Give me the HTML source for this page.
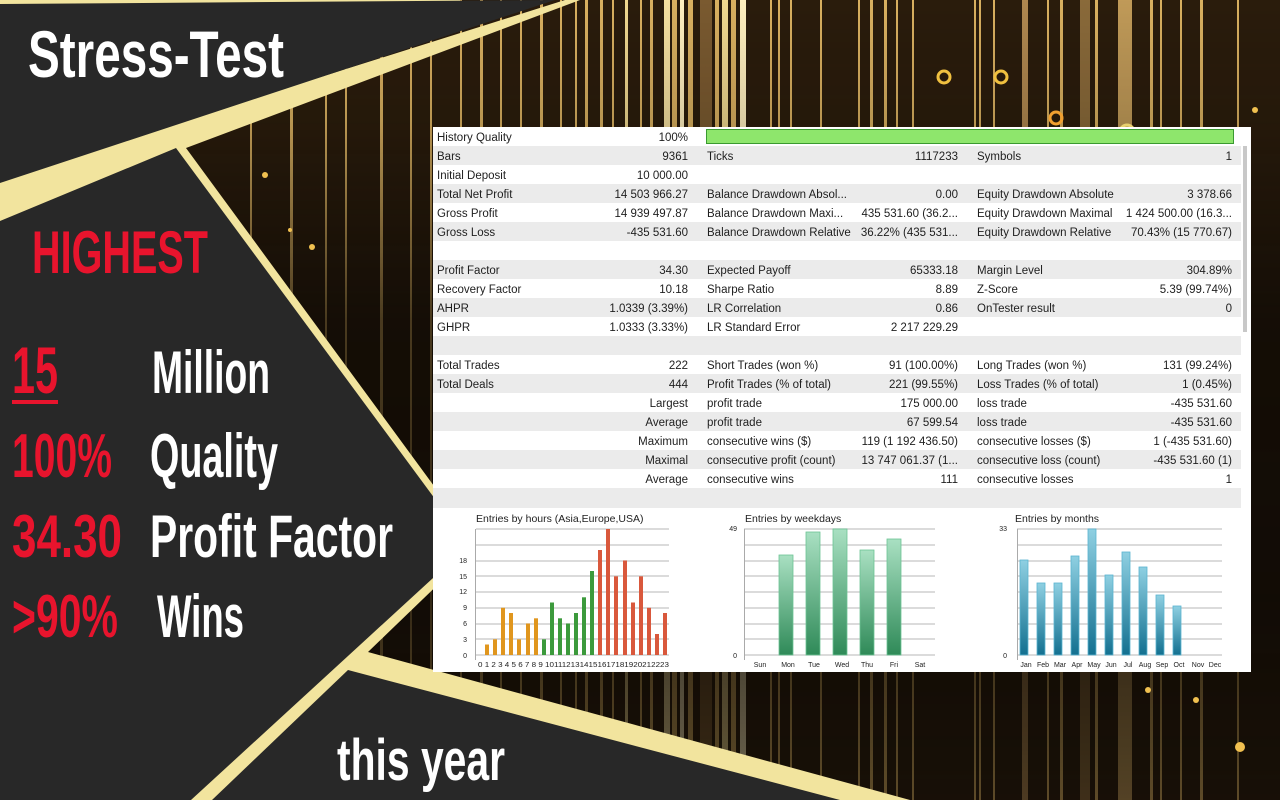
<!DOCTYPE html>
<html><head><meta charset="utf-8"><style>
html,body{margin:0;padding:0;background:#000;}
svg{display:block}
</style></head><body>
<svg width="1280" height="800" viewBox="0 0 1280 800" xmlns="http://www.w3.org/2000/svg" font-family="Liberation Sans, sans-serif">
<defs>
<linearGradient id="fade" x1="0" y1="0" x2="0" y2="1">
<stop offset="0" stop-color="#fff" stop-opacity="1"/>
<stop offset="0.15" stop-color="#fff" stop-opacity="0.85"/>
<stop offset="0.4" stop-color="#fff" stop-opacity="0.3"/>
<stop offset="0.75" stop-color="#fff" stop-opacity="0.2"/>
<stop offset="1" stop-color="#fff" stop-opacity="0.4"/>
</linearGradient>
<mask id="m"><rect x="0" y="0" width="1280" height="800" fill="url(#fade)"/></mask>
<linearGradient id="gG" x1="0" y1="0" x2="0" y2="1"><stop offset="0" stop-color="#a9e0c2"/><stop offset="1" stop-color="#2f8a58"/></linearGradient>
<linearGradient id="gB" x1="0" y1="0" x2="0" y2="1"><stop offset="0" stop-color="#8fd0e2"/><stop offset="1" stop-color="#137090"/></linearGradient>
</defs>
<rect width="1280" height="800" fill="#0c0804"/>
<g mask="url(#m)">
<rect x="0" y="0" width="1280" height="800" fill="#2a1c0c"/>
<g fill="#d9b060">
<rect x="664" y="0" width="6" height="800" fill="#f5e0a0"/><rect x="672" y="0" width="5" height="800"/><rect x="680" y="0" width="4" height="800" fill="#fff0c0"/><rect x="688" y="0" width="5" height="800"/>
<rect x="700" y="0" width="12" height="800" fill="#7a5a30"/><rect x="715" y="0" width="4" height="800"/><rect x="722" y="0" width="6" height="800" fill="#f0d890"/><rect x="731" y="0" width="5" height="800"/><rect x="740" y="0" width="6" height="800" fill="#fff0c0"/>
<rect x="770" y="0" width="2" height="800"/><rect x="778" y="0" width="2" height="800"/><rect x="790" y="0" width="2" height="800"/><rect x="820" y="0" width="2" height="800"/>
<rect x="858" y="0" width="2" height="800"/><rect x="870" y="0" width="3" height="800"/><rect x="884" y="0" width="3" height="800"/><rect x="896" y="0" width="2" height="800"/><rect x="912" y="0" width="2" height="800"/>
<rect x="974" y="0" width="2" height="800"/><rect x="979" y="0" width="2" height="800"/><rect x="993" y="0" width="2" height="800"/><rect x="1022" y="0" width="6" height="800" fill="#b08850"/><rect x="1047" y="0" width="2" height="800"/><rect x="1060" y="0" width="3" height="800"/>
<rect x="1080" y="0" width="10" height="800" fill="#8a6a3a"/><rect x="1095" y="0" width="3" height="800"/><rect x="1118" y="0" width="14" height="800" fill="#c09a58"/><rect x="1150" y="0" width="3" height="800"/>
<rect x="1160" y="0" width="2" height="800"/><rect x="1180" y="0" width="2" height="800"/><rect x="1200" y="0" width="3" height="800"/><rect x="1237" y="0" width="2" height="800"/>
<rect x="600" y="0" width="3" height="800"/><rect x="612" y="0" width="2" height="800"/><rect x="625" y="0" width="3" height="800" fill="#f0d890"/><rect x="640" y="0" width="2" height="800"/><rect x="650" y="0" width="3" height="800"/>
<rect x="520" y="0" width="2" height="800"/><rect x="540" y="0" width="3" height="800"/><rect x="560" y="0" width="2" height="800"/><rect x="575" y="0" width="2" height="800"/><rect x="585" y="0" width="3" height="800"/>
<rect x="460" y="0" width="2" height="800"/><rect x="480" y="0" width="3" height="800"/><rect x="500" y="0" width="2" height="800"/>
<rect x="250" y="0" width="2" height="800"/><rect x="290" y="0" width="3" height="800"/><rect x="325" y="0" width="2" height="800"/><rect x="345" y="0" width="2" height="800"/><rect x="380" y="0" width="3" height="800"/><rect x="410" y="0" width="2" height="800"/><rect x="430" y="0" width="2" height="800"/>
</g>
</g>
<g fill="none" stroke-width="3">
<circle cx="944" cy="77" r="6" stroke="#f0c040"/><circle cx="1001" cy="77" r="6" stroke="#f0c040"/><circle cx="1056" cy="118" r="6" stroke="#f0a030"/><circle cx="1127" cy="132" r="7" stroke="#e8d070"/>
</g>
<g fill="#f0c050"><circle cx="1240" cy="747" r="5"/><circle cx="1148" cy="690" r="3"/><circle cx="1196" cy="700" r="3"/><circle cx="1255" cy="110" r="3"/><circle cx="265" cy="175" r="3"/><circle cx="312" cy="247" r="3"/><circle cx="290" cy="230" r="2"/></g>

<!-- cream -->
<polygon points="0,0 460,0 460,4 0,4" fill="#f2e49e"/>
<polygon points="0,178 565,0 580,0 186,148 478,546 368,652 910,800 0,800" fill="#f2e49e"/>
<!-- dark panels -->
<polygon points="0,4 555,0 0,183" fill="#282828"/>
<polygon points="0,221 176,148 469,545 191,800 0,800" fill="#282828"/>
<polygon points="348,670 840,800 212,800" fill="#282828"/>

<!-- headline text -->
<g font-family="Liberation Sans Narrow, Liberation Sans, sans-serif" font-weight="bold">
<text x="28" y="77" font-size="66" fill="#fff" textLength="256" lengthAdjust="spacingAndGlyphs">Stress-Test</text>
<text x="32" y="273" font-size="60" fill="#e8142d" textLength="176" lengthAdjust="spacingAndGlyphs">HIGHEST</text>
<text x="12" y="393" font-size="66" fill="#e8142d" textLength="46" lengthAdjust="spacingAndGlyphs">15</text>
<rect x="12" y="400" width="46" height="4" fill="#e8142d"/>
<text x="152" y="393" font-size="60" fill="#fff" textLength="118" lengthAdjust="spacingAndGlyphs">Million</text>
<text x="12" y="477" font-size="62" fill="#e8142d" textLength="100" lengthAdjust="spacingAndGlyphs">100%</text>
<text x="150" y="477" font-size="62" fill="#fff" textLength="128" lengthAdjust="spacingAndGlyphs">Quality</text>
<text x="12" y="557" font-size="60" fill="#e8142d" textLength="110" lengthAdjust="spacingAndGlyphs">34.30</text>
<text x="150" y="557" font-size="60" fill="#fff" textLength="243" lengthAdjust="spacingAndGlyphs">Profit Factor</text>
<text x="12" y="637" font-size="60" fill="#e8142d" textLength="106" lengthAdjust="spacingAndGlyphs">&gt;90%</text>
<text x="157" y="637" font-size="60" fill="#fff" textLength="87" lengthAdjust="spacingAndGlyphs">Wins</text>
<text x="337" y="780" font-size="58" fill="#fff" textLength="168" lengthAdjust="spacingAndGlyphs">this year</text>
</g>

<!-- report panel -->
<rect x="433" y="127" width="818" height="545" fill="#fff"/>
<g fill="#ebebeb">
<rect x="433" y="146" width="808" height="19"/><rect x="433" y="184" width="808" height="19"/><rect x="433" y="222" width="808" height="19"/>
<rect x="433" y="260" width="808" height="19"/><rect x="433" y="298" width="808" height="19"/><rect x="433" y="336" width="808" height="19"/>
<rect x="433" y="374" width="808" height="19"/><rect x="433" y="412" width="808" height="19"/><rect x="433" y="450" width="808" height="19"/>
<rect x="433" y="488" width="808" height="20"/>
</g>
<rect x="1243" y="146" width="4" height="186" fill="#c8c8c8"/>
<rect x="706.5" y="129.5" width="527" height="14" fill="#8ee66c" stroke="#3a9a30"/>
<g font-size="11.5" fill="#1e1e1e">
<text x="437" y="141">History Quality</text><text x="688" y="141" text-anchor="end">100%</text>
<text x="437" y="160">Bars</text><text x="688" y="160" text-anchor="end">9361</text><text x="707" y="160">Ticks</text><text x="958" y="160" text-anchor="end">1117233</text><text x="977" y="160">Symbols</text><text x="1232" y="160" text-anchor="end">1</text>
<text x="437" y="179">Initial Deposit</text><text x="688" y="179" text-anchor="end">10 000.00</text>
<text x="437" y="198">Total Net Profit</text><text x="688" y="198" text-anchor="end">14 503 966.27</text><text x="707" y="198">Balance Drawdown Absol...</text><text x="958" y="198" text-anchor="end">0.00</text><text x="977" y="198">Equity Drawdown Absolute</text><text x="1232" y="198" text-anchor="end">3 378.66</text>
<text x="437" y="217">Gross Profit</text><text x="688" y="217" text-anchor="end">14 939 497.87</text><text x="707" y="217">Balance Drawdown Maxi...</text><text x="958" y="217" text-anchor="end">435 531.60 (36.2...</text><text x="977" y="217">Equity Drawdown Maximal</text><text x="1232" y="217" text-anchor="end">1 424 500.00 (16.3...</text>
<text x="437" y="236">Gross Loss</text><text x="688" y="236" text-anchor="end">-435 531.60</text><text x="707" y="236">Balance Drawdown Relative</text><text x="958" y="236" text-anchor="end">36.22% (435 531...</text><text x="977" y="236">Equity Drawdown Relative</text><text x="1232" y="236" text-anchor="end">70.43% (15 770.67)</text>
<text x="437" y="274">Profit Factor</text><text x="688" y="274" text-anchor="end">34.30</text><text x="707" y="274">Expected Payoff</text><text x="958" y="274" text-anchor="end">65333.18</text><text x="977" y="274">Margin Level</text><text x="1232" y="274" text-anchor="end">304.89%</text>
<text x="437" y="293">Recovery Factor</text><text x="688" y="293" text-anchor="end">10.18</text><text x="707" y="293">Sharpe Ratio</text><text x="958" y="293" text-anchor="end">8.89</text><text x="977" y="293">Z-Score</text><text x="1232" y="293" text-anchor="end">5.39 (99.74%)</text>
<text x="437" y="312">AHPR</text><text x="688" y="312" text-anchor="end">1.0339 (3.39%)</text><text x="707" y="312">LR Correlation</text><text x="958" y="312" text-anchor="end">0.86</text><text x="977" y="312">OnTester result</text><text x="1232" y="312" text-anchor="end">0</text>
<text x="437" y="331">GHPR</text><text x="688" y="331" text-anchor="end">1.0333 (3.33%)</text><text x="707" y="331">LR Standard Error</text><text x="958" y="331" text-anchor="end">2 217 229.29</text>
<text x="437" y="369">Total Trades</text><text x="688" y="369" text-anchor="end">222</text><text x="707" y="369">Short Trades (won %)</text><text x="958" y="369" text-anchor="end">91 (100.00%)</text><text x="977" y="369">Long Trades (won %)</text><text x="1232" y="369" text-anchor="end">131 (99.24%)</text>
<text x="437" y="388">Total Deals</text><text x="688" y="388" text-anchor="end">444</text><text x="707" y="388">Profit Trades (% of total)</text><text x="958" y="388" text-anchor="end">221 (99.55%)</text><text x="977" y="388">Loss Trades (% of total)</text><text x="1232" y="388" text-anchor="end">1 (0.45%)</text>
<text x="688" y="407" text-anchor="end">Largest</text><text x="707" y="407">profit trade</text><text x="958" y="407" text-anchor="end">175 000.00</text><text x="977" y="407">loss trade</text><text x="1232" y="407" text-anchor="end">-435 531.60</text>
<text x="688" y="426" text-anchor="end">Average</text><text x="707" y="426">profit trade</text><text x="958" y="426" text-anchor="end">67 599.54</text><text x="977" y="426">loss trade</text><text x="1232" y="426" text-anchor="end">-435 531.60</text>
<text x="688" y="445" text-anchor="end">Maximum</text><text x="707" y="445">consecutive wins ($)</text><text x="958" y="445" text-anchor="end">119 (1 192 436.50)</text><text x="977" y="445">consecutive losses ($)</text><text x="1232" y="445" text-anchor="end">1 (-435 531.60)</text>
<text x="688" y="464" text-anchor="end">Maximal</text><text x="707" y="464">consecutive profit (count)</text><text x="958" y="464" text-anchor="end">13 747 061.37 (1...</text><text x="977" y="464">consecutive loss (count)</text><text x="1232" y="464" text-anchor="end">-435 531.60 (1)</text>
<text x="688" y="483" text-anchor="end">Average</text><text x="707" y="483">consecutive wins</text><text x="958" y="483" text-anchor="end">111</text><text x="977" y="483">consecutive losses</text><text x="1232" y="483" text-anchor="end">1</text>
</g>

<!-- charts -->
<g font-size="10.5" fill="#222">
<text x="476" y="522">Entries by hours (Asia,Europe,USA)</text>
<text x="745" y="522">Entries by weekdays</text>
<text x="1015" y="522">Entries by months</text>
</g>
<g stroke="#cfcfcf" stroke-width="1.5">
<line x1="476" x2="669" y1="529" y2="529"/><line x1="476" x2="669" y1="545" y2="545"/><line x1="476" x2="669" y1="561" y2="561"/><line x1="476" x2="669" y1="576" y2="576"/><line x1="476" x2="669" y1="592" y2="592"/><line x1="476" x2="669" y1="608" y2="608"/><line x1="476" x2="669" y1="624" y2="624"/><line x1="476" x2="669" y1="639" y2="639"/><line x1="476" x2="669" y1="655" y2="655"/>
<line x1="744" x2="935" y1="529" y2="529"/><line x1="744" x2="935" y1="545" y2="545"/><line x1="744" x2="935" y1="561" y2="561"/><line x1="744" x2="935" y1="576" y2="576"/><line x1="744" x2="935" y1="592" y2="592"/><line x1="744" x2="935" y1="608" y2="608"/><line x1="744" x2="935" y1="624" y2="624"/><line x1="744" x2="935" y1="639" y2="639"/><line x1="744" x2="935" y1="655" y2="655"/>
<line x1="1017" x2="1222" y1="529" y2="529"/><line x1="1017" x2="1222" y1="545" y2="545"/><line x1="1017" x2="1222" y1="561" y2="561"/><line x1="1017" x2="1222" y1="576" y2="576"/><line x1="1017" x2="1222" y1="592" y2="592"/><line x1="1017" x2="1222" y1="608" y2="608"/><line x1="1017" x2="1222" y1="624" y2="624"/><line x1="1017" x2="1222" y1="639" y2="639"/><line x1="1017" x2="1222" y1="655" y2="655"/>
</g>
<g stroke="#aaa" stroke-width="1"><line x1="475.5" x2="475.5" y1="529" y2="660"/><line x1="744.5" x2="744.5" y1="529" y2="660"/><line x1="1017.5" x2="1017.5" y1="529" y2="660"/></g>
<g font-size="7" fill="#222" text-anchor="end">
<text x="467" y="563">18</text><text x="467" y="579">15</text><text x="467" y="594">12</text><text x="467" y="610">9</text><text x="467" y="626">6</text><text x="467" y="642">3</text><text x="467" y="658">0</text>
<text x="737" y="531">49</text><text x="737" y="658">0</text>
<text x="1007" y="531">33</text><text x="1007" y="658">0</text>
</g>
<g fill="#e0961e">
<rect x="485" y="644.5" width="4" height="10.5"/><rect x="493" y="639.3" width="4" height="15.7"/><rect x="501" y="607.8" width="4" height="47.2"/><rect x="509" y="613" width="4" height="42"/><rect x="517" y="639.3" width="4" height="15.7"/><rect x="526" y="623.5" width="4" height="31.5"/><rect x="534" y="618.3" width="4" height="36.7"/>
</g>
<g fill="#3c9a3c">
<rect x="542" y="639.3" width="4" height="15.7"/><rect x="550" y="602.5" width="4" height="52.5"/><rect x="558" y="618.3" width="4" height="36.7"/><rect x="566" y="623.5" width="4" height="31.5"/><rect x="574" y="613" width="4" height="42"/><rect x="582" y="597.3" width="4" height="57.7"/><rect x="590" y="571" width="4" height="84"/>
</g>
<g fill="#d9583c">
<rect x="598" y="550" width="4" height="105"/><rect x="606" y="529" width="4" height="126"/><rect x="614" y="576.3" width="4" height="78.7"/><rect x="623" y="560.5" width="4" height="94.5"/><rect x="631" y="602.5" width="4" height="52.5"/><rect x="639" y="576.3" width="4" height="78.7"/><rect x="647" y="607.8" width="4" height="47.2"/><rect x="655" y="634" width="4" height="21"/><rect x="663" y="613" width="4" height="42"/>
</g>
<text x="478" y="667" font-size="7" fill="#222" textLength="191" lengthAdjust="spacingAndGlyphs">0 1 2 3 4 5 6 7 8 9 1011121314151617181920212223</text>
<g fill="url(#gG)" stroke="#6cc494" stroke-width="0.8">
<rect x="779" y="555" width="14" height="100"/><rect x="806" y="532" width="14" height="123"/><rect x="833" y="529" width="14" height="126"/><rect x="860" y="550" width="14" height="105"/><rect x="887" y="539" width="14" height="116"/>
</g>
<g font-size="7" fill="#222" text-anchor="middle">
<text x="760" y="667">Sun</text><text x="788" y="667">Mon</text><text x="814" y="667">Tue</text><text x="842" y="667">Wed</text><text x="867" y="667">Thu</text><text x="894" y="667">Fri</text><text x="920" y="667">Sat</text>
</g>
<g fill="url(#gB)" stroke="#5ab4d0" stroke-width="0.8">
<rect x="1020" y="560" width="8" height="95"/><rect x="1037" y="583" width="8" height="72"/><rect x="1054" y="583" width="8" height="72"/><rect x="1071" y="556" width="8" height="99"/><rect x="1088" y="529" width="8" height="126"/><rect x="1105" y="575" width="8" height="80"/><rect x="1122" y="552" width="8" height="103"/><rect x="1139" y="567" width="8" height="88"/><rect x="1156" y="595" width="8" height="60"/><rect x="1173" y="606" width="8" height="49"/>
</g>
<g font-size="7" fill="#222" text-anchor="middle">
<text x="1026" y="667">Jan</text><text x="1043" y="667">Feb</text><text x="1060" y="667">Mar</text><text x="1077" y="667">Apr</text><text x="1094" y="667">May</text><text x="1111" y="667">Jun</text><text x="1128" y="667">Jul</text><text x="1145" y="667">Aug</text><text x="1162" y="667">Sep</text><text x="1179" y="667">Oct</text><text x="1198" y="667">Nov</text><text x="1215" y="667">Dec</text>
</g>
</svg>
</body></html>
